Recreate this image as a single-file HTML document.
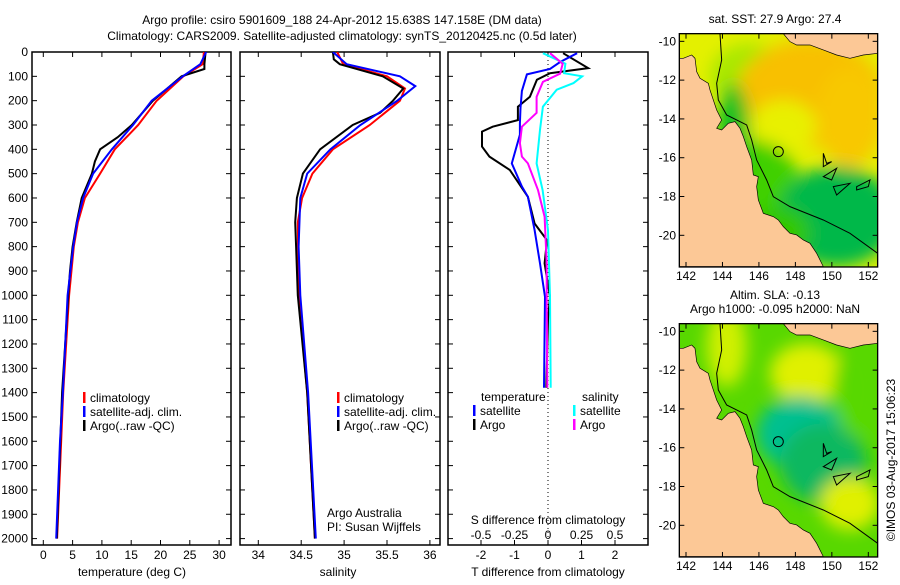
<!DOCTYPE html>
<html><head><meta charset="utf-8"><style>
body{margin:0;background:#fff;}
svg text{font-family:"Liberation Sans",sans-serif;font-size:12px;fill:#000;}
</style></head><body>
<svg id="fig" width="900" height="580" viewBox="0 0 900 580" xmlns="http://www.w3.org/2000/svg">
<defs>
<filter id="blur8" x="-50%" y="-50%" width="200%" height="200%"><feGaussianBlur stdDeviation="25"/></filter>
<clipPath id="mapclip"><rect x="88" y="101" width="595" height="700"/></clipPath>
<clipPath id="p1"><rect x="32" y="52" width="199" height="493"/></clipPath>
<clipPath id="p2"><rect x="240" y="52" width="200" height="493"/></clipPath>
<clipPath id="p3"><rect x="448" y="52" width="200" height="493"/></clipPath>
</defs>
<text x="342" y="24" text-anchor="middle">Argo profile: csiro 5901609_188 24-Apr-2012 15.638S 147.158E (DM data)</text>
<text x="342" y="40" text-anchor="middle">Climatology: CARS2009. Satellite-adjusted climatology: synTS_20120425.nc (0.5d later)</text>
<g id="plots"></g>
<g id="maps"></g>
<text transform="translate(895,460) rotate(-90)" text-anchor="middle">©IMOS 03-Aug-2017 15:06:23</text>
</svg>
<script>
// ---- data ----
const depthsTBlack=[0,50,70,100,200,300,350,400,450,500,600,700,800,900,1000,1400,2000];
const tempArgo=[27.7,27.5,27.5,23.6,18.7,15.1,12.7,9.7,8.8,8.3,6.55,5.7,5.0,4.55,4.27,3.2,2.3];
const depthsTClim=[0,50,100,200,300,400,500,600,700,800,1000,1400,2000];
const tempClim=[27.4,27.2,23.9,19.35,16.2,12.2,9.7,7.1,5.9,5.2,4.4,3.4,2.35];
const depthsTSat=[0,50,100,200,300,400,500,600,700,800,1000,1400,1600,2000];
const tempSat=[27.8,26.8,23.8,18.5,15.3,11.7,8.5,6.8,5.75,5.1,4.15,3.35,2.85,2.2];

const depthsSBlack=[0,30,50,100,150,200,250,300,400,500,600,700,800,1000,1400,2000];
const salArgo=[34.87,34.88,34.95,35.45,35.69,35.57,35.42,35.10,34.72,34.52,34.45,34.43,34.44,34.46,34.57,34.66];
const depthsSClim=[0,50,100,150,200,300,400,500,600,700,1000,1400,2000];
const salClim=[34.92,34.99,35.5,35.71,35.65,35.3,34.87,34.63,34.51,34.46,34.47,34.57,34.66];
const depthsSSat=[0,50,100,140,200,300,400,500,600,800,1000,1400,2000];
const salSat=[34.87,35.03,35.65,35.83,35.62,35.19,34.84,34.57,34.49,34.47,34.49,34.58,34.67];

const dTArgoDepth=[5,66,87,114,184,225,280,307,327,389,430,485,595,705,773,869,1006,1100,1380];
const dTArgo=[0.45,1.2,0.06,-0.33,-0.54,-0.9,-0.9,-1.65,-1.97,-1.97,-1.75,-1.14,-0.6,-0.4,-0.03,-0.1,0.06,0.0,-0.05];
const dTSatDepth=[5,41,70,92,160,230,293,340,458,553,595,732,869,1006,1380];
const dTSat=[0.87,0.36,0.06,-0.63,-0.78,-0.82,-0.84,-0.84,-1.08,-0.78,-0.6,-0.4,-0.24,-0.09,-0.12];
const dSArgoDepth=[5,48,89,123,184,250,307,375,430,458,567,677,869,1006,1380];
const dSArgo=[0.015,0.11,0.09,-0.038,-0.085,-0.085,-0.195,-0.21,-0.195,-0.15,-0.075,-0.025,-0.01,-0.01,-0.005];
const dSSatDepth=[5,48,87,100,128,155,225,320,458,567,732,1006,1380];
const dSSat=[-0.038,0.13,0.12,0.255,0.19,0.065,-0.038,-0.06,-0.085,-0.04,0.0,0.015,0.02];

const depthTicks=[0,100,200,300,400,500,600,700,800,900,1000,1100,1200,1300,1400,1500,1600,1700,1800,1900,2000];
const tempTicks=[0,5,10,15,20,25,30];
const salTicks=[34,34.5,35,35.5,36];
const dTTicks=[-2,-1,0,1,2];
const dSTicks=[-0.5,-0.25,0,0.25,0.5];

// ---- axes ----
const NS="http://www.w3.org/2000/svg";
const TOP=52,BOT=545;
const yD=d=>TOP+d*0.2433;
const xT=t=>43.3+t*5.86;
const xS=s=>258.3+(s-34)*85.8;
const xDT=t=>548+t*33.5;
const xDS=s=>548+s*134;
const root=document.getElementById('plots');
function mk(tag,attrs,parent){const e=document.createElementNS(NS,tag);for(const k in attrs)e.setAttribute(k,attrs[k]);(parent||root).appendChild(e);return e;}
function txt(x,y,s,anchor,parent){const t=mk('text',{x:x,y:y,'text-anchor':anchor||'start'},parent);t.textContent=s;return t;}
function line(xs,ds,xf,color,clip,name,w){
  const pts=xs.map((v,i)=>xf(v).toFixed(1)+','+yD(ds[i]).toFixed(1)).join(' ');
  const p=mk('polyline',{points:pts,fill:'none',stroke:color,'stroke-width':w||2,'clip-path':'url(#'+clip+')'});
  
  
}
function panel(x0,x1,name){
  const r=mk('rect',{x:x0,y:TOP,width:x1-x0,height:BOT-TOP,fill:'none',stroke:'#000','stroke-width':1.5});
  
  
  depthTicks.forEach(d=>{mk('line',{x1:x0,x2:x0+5,y1:yD(d),y2:yD(d),stroke:'#000'});mk('line',{x1:x1,x2:x1-5,y1:yD(d),y2:yD(d),stroke:'#000'});});
}
panel(32,231,'temperature-panel');panel(240,440,'salinity-panel');panel(448,648,'difference-panel');
depthTicks.forEach(d=>{const t=txt(28,yD(d)+4,String(d),'end');});
function xticks(ticks,xf,lblY){ticks.forEach(v=>{const x=xf(v);mk('line',{x1:x,x2:x,y1:BOT,y2:BOT-5,stroke:'#000'});mk('line',{x1:x,x2:x,y1:TOP,y2:TOP+5,stroke:'#000'});const t=txt(x,lblY,String(v),'middle');});}
xticks(tempTicks,xT,559);xticks(salTicks,xS,559);xticks(dTTicks,xDT,559);
dSTicks.forEach(v=>{const x=xDS(v);mk('line',{x1:x,x2:x,y1:BOT,y2:BOT-5,stroke:'#000'});const t=txt(x,539,String(v),'middle');});
let t;
t=txt(132,576,'temperature (deg C)','middle');
t=txt(338,576,'salinity','middle');
t=txt(548,576,'T difference from climatology','middle');
t=txt(548,524,'S difference from climatology','middle');
t=txt(327,517,'Argo Australia');
t=txt(327,531,'PI: Susan Wijffels');
mk('line',{x1:548,x2:548,y1:TOP,y2:BOT,stroke:'#000','stroke-dasharray':'1,3'});
line(tempClim,depthsTClim,xT,'#ff0000','p1','temp-climatology-line');
line(tempArgo,depthsTBlack,xT,'#000000','p1','temp-argo-line');
line(tempSat,depthsTSat,xT,'#0000ff','p1','temp-satellite-line');
line(salClim,depthsSClim,xS,'#ff0000','p2','sal-climatology-line');
line(salArgo,depthsSBlack,xS,'#000000','p2','sal-argo-line');
line(salSat,depthsSSat,xS,'#0000ff','p2','sal-satellite-line');
line(dTArgo,dTArgoDepth,xDT,'#000000','p3','t-diff-argo-line');
line(dTSat,dTSatDepth,xDT,'#0000ff','p3','t-diff-satellite-line');
line(dSSat,dSSatDepth,xDS,'#00ffff','p3','s-diff-satellite-line');
line(dSArgo,dSArgoDepth,xDS,'#ff00ff','p3','s-diff-argo-line');
function leg(x,y,c,s){mk('rect',{x:x,y:y-10,width:2.5,height:11,fill:c});const e=txt(x+7,y,s);}
[['#ff0000','climatology'],['#0000ff','satellite-adj. clim.'],['#000000','Argo(..raw -QC)']].forEach((a,i)=>leg(83,402+i*14,a[0],a[1]));
[['#ff0000','climatology'],['#0000ff','satellite-adj. clim.'],['#000000','Argo(..raw -QC)']].forEach((a,i)=>leg(337,402+i*14,a[0],a[1]));
t=txt(481,401,'temperature');
t=txt(582,401,'salinity');
leg(473,415,'#0000ff','satellite');leg(473,429,'#000000','Argo');
leg(573,415,'#00ffff','satellite');leg(573,429,'#ff00ff','Argo');

// ---- maps ----
const maps=document.getElementById('maps');
const land="88,175 100,175 125,165 135,175 140,215 150,235 175,250 180,270 190,300 200,330 215,360 200,385 215,390 235,370 255,365 270,385 280,410 290,440 305,480 310,525 325,530 320,560 325,600 340,640 370,650 385,660 400,680 420,700 440,705 460,720 480,730 500,760 520,800 88,800";
const png="400,101 420,125 440,135 480,135 520,150 560,165 600,175 640,165 683,160 683,101";
const shelf="210,101 215,180 200,250 205,300 230,345 290,375 305,420 320,480 350,540 370,590 420,620 520,660 600,700 683,760";
function map(oy,name,blobs,base,title){
  const g=mk('g',{transform:'translate(650,'+oy+') scale(0.3333)'},maps);
  
  
  const c=mk('g',{'clip-path':'url(#mapclip)'},g);
  mk('rect',{x:88,y:101,width:595,height:700,fill:base},c);
  const b=mk('g',{filter:'url(#blur8)'},c);
  blobs.forEach(a=>mk('ellipse',{cx:a[0],cy:a[1],rx:a[2],ry:a[3],fill:a[4]},b));
  mk('polygon',{points:land,fill:'#fcc896',stroke:'#000','stroke-width':2},c);
  mk('polygon',{points:png,fill:'#fcc896',stroke:'#000','stroke-width':2},c);
  mk('polyline',{points:shelf,fill:'none',stroke:'#000','stroke-width':3},c);
  mk('path',{d:'M520,460 L530,490 L545,485 L520,500 Z M520,530 L560,505 L545,540 Z M550,560 L600,550 L560,585 Z M620,560 L660,540 L655,560 L620,570 Z',fill:'none',stroke:'#000','stroke-width':3},c);
  const circ=mk('circle',{cx:385,cy:455,r:15,fill:'none',stroke:'#000','stroke-width':3},g);
  
  
  mk('rect',{x:88,y:101,width:595,height:700,fill:'none',stroke:'#000','stroke-width':4},g);
  const lons=[142,144,146,148,150,152],lats=[-10,-12,-14,-16,-18,-20];
  lons.forEach(l=>{const x=108+(l-142)*54.7;mk('line',{x1:x,x2:x,y1:801,y2:786,stroke:'#000','stroke-width':3},g);mk('line',{x1:x,x2:x,y1:101,y2:116,stroke:'#000','stroke-width':3},g);
    const e=txt(650+x/3,oy+280,String(l),'middle',maps);});
  lats.forEach(l=>{const y=124+(-10-l)*58.2;mk('line',{x1:88,x2:103,y1:y,y2:y,stroke:'#000','stroke-width':3},g);mk('line',{x1:683,x2:668,y1:y,y2:y,stroke:'#000','stroke-width':3},g);
    const e=txt(676,oy+y/3+4,String(l),'end',maps);});
  title.forEach((s,i)=>{const e=txt(775,oy+(title.length==1?23:(i==0?9:23)),s,'middle',maps);});
}
map(0,'sst-map',[[300,230,120,100,'#a8e800'],[480,280,220,160,'#f8c000'],[600,350,100,150,'#f8c800'],[400,380,100,80,'#e8f000'],[300,550,150,130,'#40d000'],[560,650,180,150,'#00b848'],[380,700,100,80,'#30c800'],[250,400,50,150,'#10c020']],'#e4f000',['sat. SST: 27.9 Argo: 27.4']);
map(290,'sla-map',[[470,250,110,90,'#e0f000'],[230,170,60,120,'#d0f000'],[450,430,130,110,'#00c090'],[520,520,130,120,'#10b860'],[600,640,90,80,'#e0f000'],[620,300,70,140,'#58d800']],'#58d800',['Altim. SLA: -0.13','Argo h1000: -0.095 h2000: NaN']);
</script>
</body></html>
